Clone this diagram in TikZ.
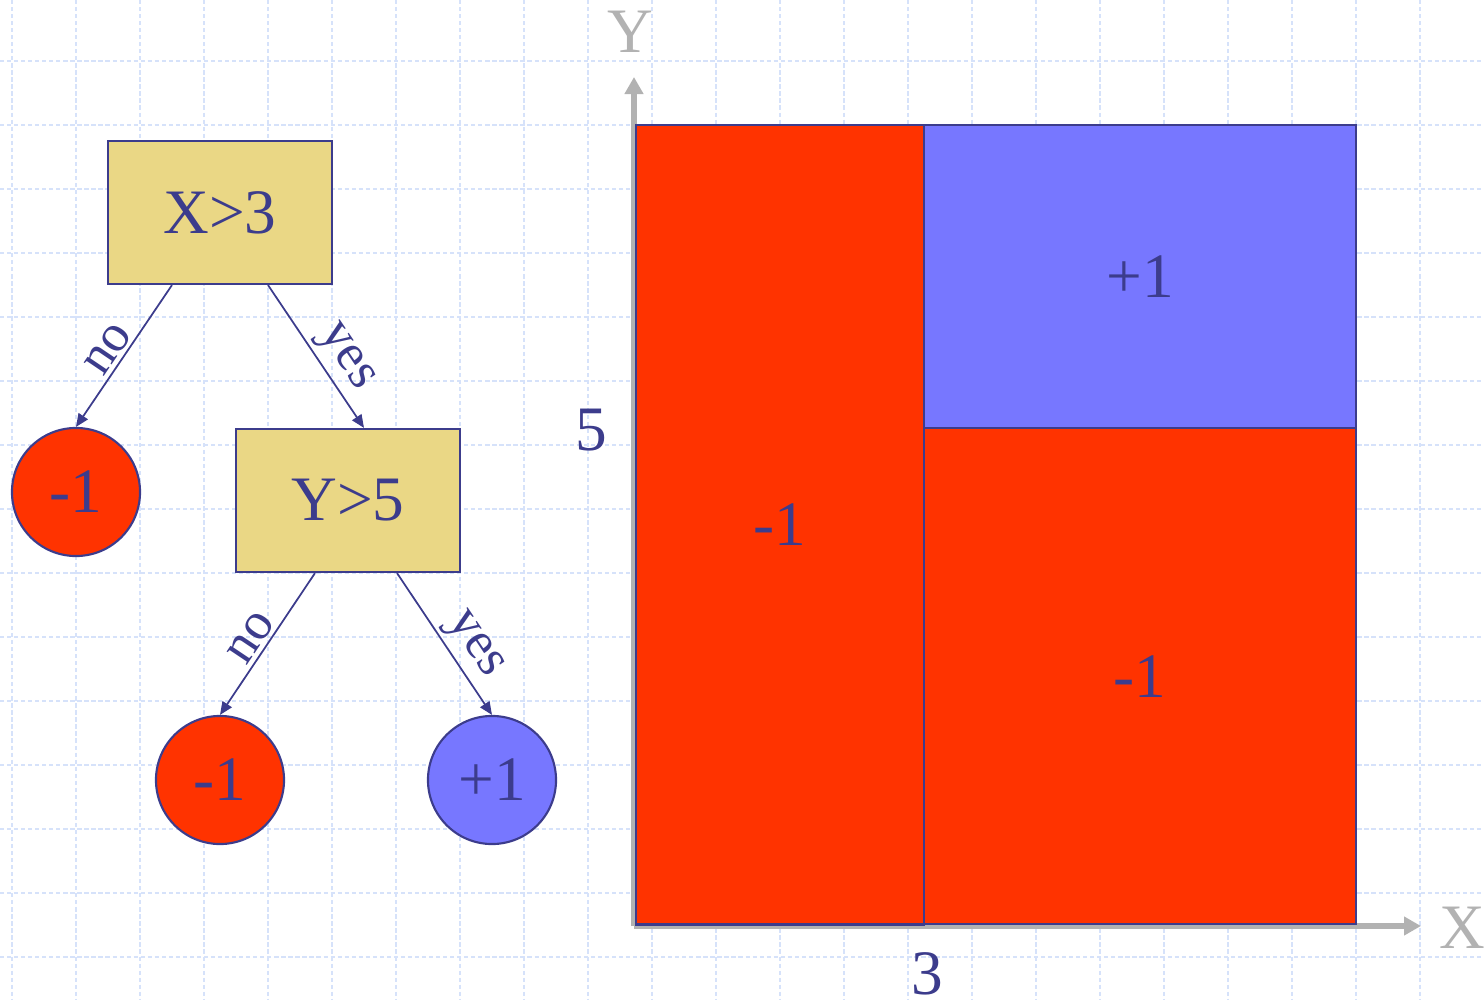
\documentclass[tikz,border=0pt]{standalone}
\usepackage{fontspec}
\setmainfont{Liberation Serif}
\usetikzlibrary{arrows.meta, positioning}
\definecolor{mRed}{HTML}{FF3300}
\definecolor{mBlue}{HTML}{7777FF}
\definecolor{mTan}{HTML}{EAD785}
\definecolor{mNavy}{HTML}{3C3C8C}
\definecolor{mGrid}{HTML}{D6E2FA}
\definecolor{mGray}{HTML}{B2B2B2}

\begin{document}
\begin{tikzpicture}[x=0.01cm, y=-0.01cm,
    test/.style={draw=mNavy, line width=0.6pt, fill=mTan, minimum width=2.24cm, minimum height=1.43cm, text=mNavy, font=\fontsize{18}{20}\selectfont},
    leaf/.style={circle, draw=mNavy, line width=0.6pt, minimum size=1.28cm, inner sep=0pt, text=mNavy, font=\fontsize{18}{20}\selectfont},
    branch/.style={draw=mNavy, line width=0.5pt, -{Triangle[length=0.13cm, width=0.11cm]}},
    lbl/.style={sloped, above, inner sep=1pt, text=mNavy, font=\fontsize{15}{17}\selectfont},
    region/.style={draw=mNavy, line width=0.6pt, anchor=north west, inner sep=0pt, outer sep=0pt, text=mNavy, font=\fontsize{18}{20}\selectfont},
    axis/.style={draw=mGray, line width=1.7pt, -{Triangle[length=0.17cm, width=0.18cm]}},
    ticklbl/.style={text=mNavy, font=\fontsize{18}{20}\selectfont},
    axlbl/.style={text=mGray, font=\fontsize{18}{20}\selectfont}]
    \useasboundingbox (0,0) rectangle (1484,1000);
    % background grid
    \foreach \gx in {12,76,...,1420}
      \draw[mGrid, line width=0.5pt, dash pattern=on 1.2pt off 0.8pt] (\gx,0) -- (\gx,1000);
    \foreach \gy in {61,125,...,957}
      \draw[mGrid, line width=0.5pt, dash pattern=on 1.2pt off 0.8pt] (0,\gy) -- (1484,\gy);

    % decision tree
    \node[test] (xtest) at (220,212.5) {X>3};
    \node[leaf, fill=mRed] (xno) at (76,492) {-1};
    \node[test] (ytest) at (348,500.5) {Y>5};
    \node[leaf, fill=mRed] (yno) at (220,780) {-1};
    \node[leaf, fill=mBlue] (yyes) at (492,780) {+1};
    \draw[branch] ([xshift=-0.48cm]xtest.south) -- node[lbl, pos=0.52] {no} (xno.north);
    \draw[branch] ([xshift=0.48cm]xtest.south) -- node[lbl, pos=0.6] {yes} ([xshift=0.16cm]ytest.north);
    \draw[branch] ([xshift=-0.33cm]ytest.south) -- node[lbl, pos=0.52] {no} (yno.north);
    \draw[branch] ([xshift=0.49cm]ytest.south) -- node[lbl, pos=0.6] {yes} (yyes.north);

    % partition of the plane
    \coordinate (orig) at (634,926);
    \coordinate (ytip) at (634,77);
    \coordinate (xtip) at (1421,926);
    \draw[axis] (orig) -- (ytip);
    \draw[axis] (orig) -- (xtip);
    \node[region, fill=mRed, minimum width=2.88cm, minimum height=7.99cm] (rleft) at (636,125) {-1};
    \node[region, fill=mBlue, minimum width=4.32cm, minimum height=3.03cm] (rtop) at (924,125) {+1};
    \node[region, fill=mRed, minimum width=4.32cm, minimum height=4.96cm] (rbot) at (924,428) {-1};
    \node[axlbl] (ylab) at (630,32) {Y};
    \node[axlbl] (xlab) at (1462,928) {X};
    \node[ticklbl] (five) at (591,430) {5};
    \node[ticklbl] (three) at (927,974) {3};
\end{tikzpicture}
\end{document}
